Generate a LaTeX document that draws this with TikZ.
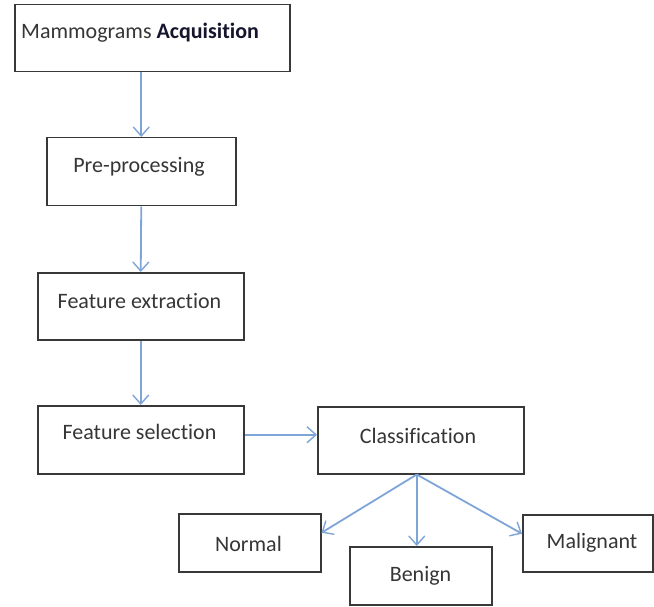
\documentclass[tikz,border=0pt]{standalone}
\usepackage{fontspec}
\setmainfont{Carlito}[Ligatures=NoCommon]
\usetikzlibrary{arrows.meta,calc}
\definecolor{edge}{HTML}{383838}
\definecolor{txt}{HTML}{363636}
\definecolor{ink}{HTML}{15152E}
\definecolor{flow}{HTML}{7FA4D8}
\begin{document}
\begin{tikzpicture}[x=1pt,y=-1pt,
  box/.style={draw=edge, line width=1.5pt, fill=white, inner sep=0pt, anchor=north west},
  lbl/.style={anchor=base, text=txt, font=\fontsize{22}{26}\selectfont, inner sep=0pt},
  arr/.style={draw=flow, line width=1.8pt, -{Straight Barb[length=9pt,width=16pt,line width=1.4pt]}}]
\useasboundingbox (0,0) rectangle (654,607);

% process boxes
\node[box, minimum width=275pt, minimum height=67pt] (acq)  at (14,4)    {};
\node[box, minimum width=189pt, minimum height=68pt] (pre)  at (46,137)  {};
\node[box, minimum width=206pt, minimum height=67pt] (fex)  at (37,272)  {};
\node[box, minimum width=206pt, minimum height=68pt] (fsel) at (37,405)  {};
\node[box, minimum width=206pt, minimum height=67pt] (cls)  at (317,406) {};
\node[box, minimum width=142pt, minimum height=58pt] (nor)  at (178,513) {};
\node[box, minimum width=142pt, minimum height=58pt] (ben)  at (349,546) {};
\node[box, minimum width=130pt, minimum height=57pt] (mal)  at (522,514) {};

% box captions
\node[lbl, anchor=base west] (acqt) at (21,38.5) {Mammograms {\bfseries\color{ink}Acquisition}};
\node[lbl] (pret)  at (139,173)   {Pre-processing};
\node[lbl] (fext)  at (139.5,308) {Feature extraction};
\node[lbl] (fselt) at (139.5,439) {Feature selection};
\node[lbl] (clst)  at (418,443)   {Classification};
\node[lbl] (nort)  at (248.5,551) {Normal};
\node[lbl] (bent)  at (420.5,581) {Benign};
\node[lbl] (malt)  at (592,548)   {Malignant};

% flow arrows
\draw[arr] (pre.north |- acq.south) -- (pre.north);
\draw[arr] (pre.south) -- (fex.north);
\draw[arr] (fex.south) -- (fsel.north);
\coordinate (h) at ([yshift=5pt]fsel.east);
\draw[arr] (h) -- (h -| cls.west);
\coordinate (fork) at ([xshift=-4pt]cls.south);
\draw[arr] (fork) -- ([yshift=10pt]nor.east);
\draw[arr] (fork) -- (fork |- ben.north);
\draw[arr] (fork) -- ([yshift=9.5pt]mal.west);
\end{tikzpicture}
\end{document}
